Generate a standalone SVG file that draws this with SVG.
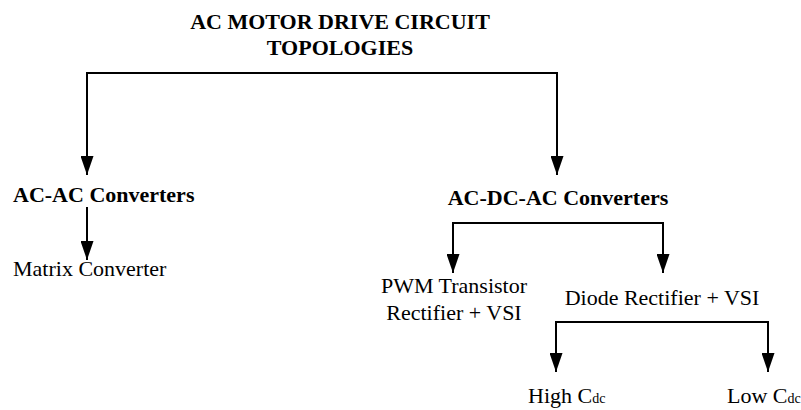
<svg xmlns="http://www.w3.org/2000/svg" width="801" height="410" viewBox="0 0 801 410">
<style>
.t{font-family:"Liberation Serif","Times New Roman",serif;font-size:22px;fill:#000}
.b{font-weight:bold}
.s{font-size:14px}
.c{fill:none;stroke:#000;stroke-width:2}
</style>
<defs>
<marker id="ah" viewBox="0 0 19 13" refX="19" refY="6.5" markerWidth="19" markerHeight="13" markerUnits="userSpaceOnUse" orient="auto-start-reverse">
<path d="M0,0 L19,6.5 L0,13 Z" fill="#000"/>
</marker>
</defs>
<rect width="801" height="410" fill="#fff"/>
<g id="connectors">
<path class="c" d="M87,175 V73 H557 V175" marker-start="url(#ah)" marker-end="url(#ah)"/>
<path class="c" d="M87,207 V260" marker-end="url(#ah)"/>
<path class="c" d="M453,273 V223 H663 V273" marker-start="url(#ah)" marker-end="url(#ah)"/>
<path class="c" d="M556,372 V322 H768 V372" marker-start="url(#ah)" marker-end="url(#ah)"/>
</g>
<g id="title">
<text class="t b" x="340" y="29" text-anchor="middle">AC MOTOR DRIVE CIRCUIT</text>
<text class="t b" x="340" y="55" text-anchor="middle">TOPOLOGIES</text>
</g>
<g id="ac-ac"><text class="t b" x="13" y="202">AC-AC Converters</text></g>
<g id="matrix"><text class="t" x="13" y="276">Matrix Converter</text></g>
<g id="ac-dc-ac"><text class="t b" x="558" y="205" text-anchor="middle">AC-DC-AC Converters</text></g>
<g id="pwm">
<text class="t" x="454" y="293" text-anchor="middle">PWM Transistor</text>
<text class="t" x="454" y="320" text-anchor="middle">Rectifier + VSI</text>
</g>
<g id="diode"><text class="t" x="662" y="305" text-anchor="middle">Diode Rectifier + VSI</text></g>
<g id="high"><text class="t" x="528" y="403">High C<tspan class="s">dc</tspan></text></g>
<g id="low"><text class="t" x="727" y="403">Low C<tspan class="s">dc</tspan></text></g>
</svg>
